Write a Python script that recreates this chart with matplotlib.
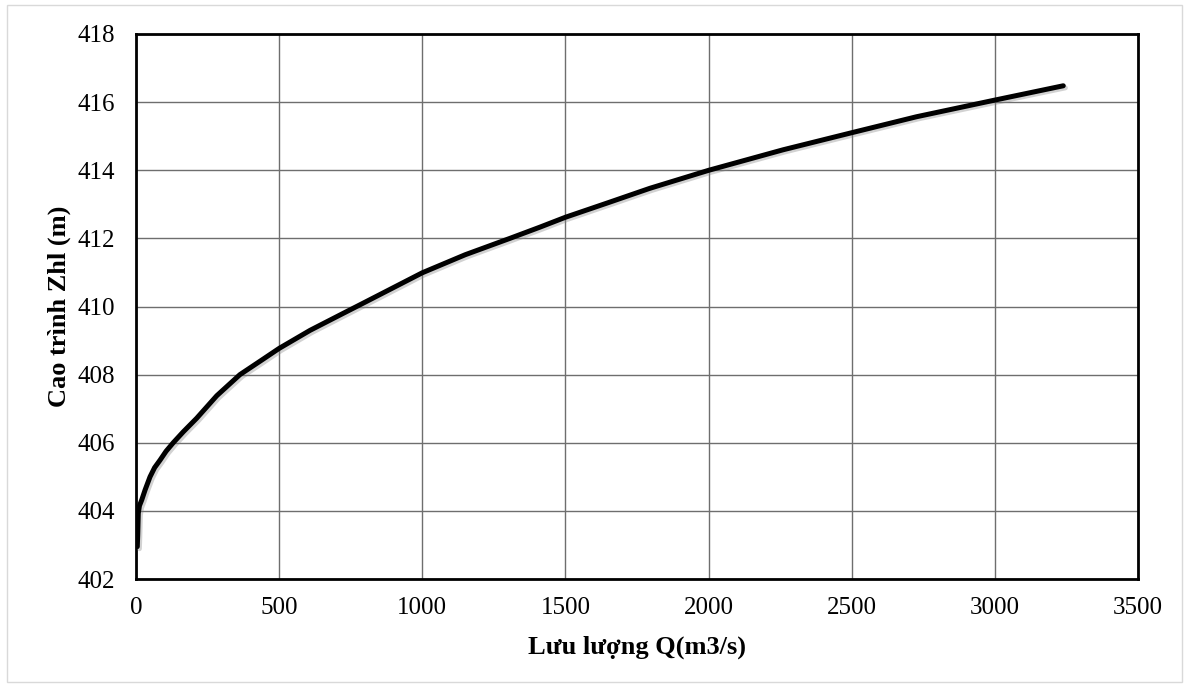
import numpy as np
import matplotlib.pyplot as plt
import matplotlib.patheffects as pe
from matplotlib.patches import Rectangle

# Duong quan he Q ~ Zhl (doc tu hinh)
luu_luong = [4.5, 6, 8, 12, 20, 32, 49, 65, 84, 105, 130, 165, 212, 282, 363, 445, 500, 608,
             724, 794, 1000, 1150, 1306, 1411, 1500, 1650, 1795, 2001, 2260, 2499, 2726, 3000, 3239]
cao_trinh = [402.95, 403.3, 403.93, 404.15, 404.32, 404.62, 405.0, 405.27, 405.49, 405.75, 406.0,
             406.32, 406.72, 407.38, 408.0, 408.46, 408.77, 409.3, 409.8, 410.1, 410.99, 411.52,
             412.0, 412.33, 412.62, 413.05, 413.47, 414.0, 414.6, 415.1, 415.57, 416.06, 416.48]

x_ticks = [0, 500, 1000, 1500, 2000, 2500, 3000, 3500]
y_ticks = [402, 404, 406, 408, 410, 412, 414, 416, 418]

plt.rcParams['font.family'] = ['Liberation Serif', 'DejaVu Serif']

fig = plt.figure(figsize=(11.89, 6.88), dpi=100)
ax = fig.add_axes([136/1189, 1-579/688, (1138-136)/1189, (579-34)/688])

ax.plot(luu_luong, cao_trinh, color='black', lw=3.6, solid_capstyle='round', solid_joinstyle='round',
        path_effects=[pe.SimpleLineShadow(offset=(1.5, -1.5), shadow_color='gray', alpha=0.35),
                      pe.Normal()], zorder=3)

ax.set_xlim(0, 3500)
ax.set_ylim(402, 418)
ax.set_xticks(x_ticks)
ax.set_yticks(y_ticks)
ax.grid(True, color='#6e6e6e', lw=1.0)
ax.set_axisbelow(True)
ax.tick_params(length=0, labelsize=18)
ax.tick_params(axis='y', pad=15)
ax.tick_params(axis='x', pad=13)
for s in ax.spines.values():
    s.set_linewidth(2)
    s.set_color('black')

ax.set_xlabel('Lưu lượng Q(m3/s)', fontsize=19, fontweight='bold', labelpad=12)
ax.set_ylabel('Cao trình Zhl (m)', fontsize=19, fontweight='bold', labelpad=5)

# khung ngoai
fig.patches.append(Rectangle((7/1189, 1-682/688), 1175/1189, 677/688, transform=fig.transFigure,
                             fill=False, edgecolor='#d9d9d9', lw=1))

plt.savefig('out.png', dpi=100)
